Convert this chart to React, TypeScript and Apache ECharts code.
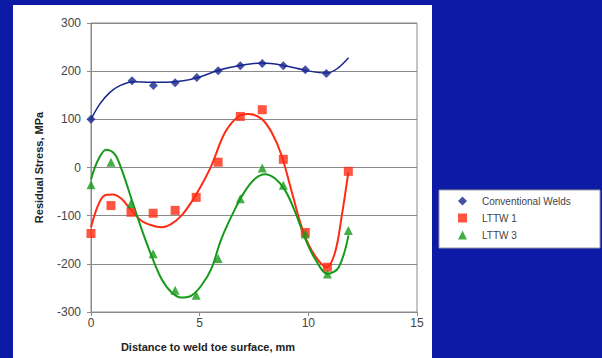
import React, { useEffect, useRef } from "react";
import * as echarts from "echarts";

// Measured points
const convX = [0, 1.89, 2.87, 3.87, 4.87, 5.85, 6.87, 7.88, 8.85, 9.86, 10.83];
const convY = [100, 180, 170, 176, 187, 201, 211, 216, 211, 203, 195];

const lttwX = [0, 0.92, 1.84, 2.86, 3.87, 4.84, 5.85, 6.87, 7.88, 8.85, 9.86, 10.88, 11.84];
const lttw1Y = [-137, -79, -93, -95, -89, -62, 11, 106, 120, 17, -135, -207, -8];
const lttw3Y = [-36, 11, -75, -179, -255, -265, -189, -65, -1, -37, -138, -221, -131];

// Trendlines
const convTrendX = [0, 0.41, 0.87, 1.33, 1.95, 2.72, 3.48, 4.25, 5.0, 5.94, 6.87, 7.86, 8.86, 9.94, 10.86, 11.32, 11.85];
const convTrendY = [100, 132, 156, 170, 178, 177, 177, 180, 188, 203, 212, 217, 212, 201, 196, 205, 228];

const lttw1TrendX = [0, 0.32, 0.63, 1.0, 1.4, 1.86, 2.3, 2.78, 3.24, 3.7, 4.16, 4.62, 5.08, 5.54, 6.17, 6.78, 7.24, 7.85, 8.31, 8.77, 9.24, 9.77, 10.3, 10.85, 11.23, 11.54, 11.84];
const lttw1TrendY = [-124, -79, -58, -56, -65, -89, -110, -120, -124, -117, -100, -72, -37, 4, 73, 106, 111, 101, 73, 25, -51, -134, -183, -207, -176, -100, -10];

const lttw3TrendX = [0, 0.32, 0.7, 1.09, 1.4, 1.86, 2.32, 2.78, 3.24, 3.7, 4.16, 4.62, 5.08, 5.54, 6.0, 6.63, 7.1, 7.56, 8.0, 8.47, 8.94, 9.4, 9.86, 10.3, 10.9, 11.4, 11.85];
const lttw3TrendY = [-25, 15, 37, 28, -3, -65, -127, -183, -231, -259, -270, -266, -245, -210, -148, -86, -48, -23, -14, -23, -48, -93, -148, -189, -221, -207, -141];

const seriesNames = ["Conventional Welds", "LTTW 1", "LTTW 3"];
const seriesSymbols = ["diamond", "rect", "triangle"];
const yTicks = { min: -300, max: 300, interval: 100 };
const xTicks = { min: 0, max: 15, interval: 5 };

const zip = (xs: number[], ys: number[]) => xs.map((x, i) => [x, ys[i]]);

const BLUE = "#18268f";
const RED = "#ff2a12";
const GREEN = "#169a1a";
const FONT = "'Liberation Sans', Arial, sans-serif";

export default function App() {
  const ref = useRef<HTMLDivElement>(null);
  useEffect(() => {
    if (!ref.current) return;
    const chart = echarts.init(ref.current, undefined, { renderer: "svg" });
    const trend = (name: string, xs: number[], ys: number[], color: string, w: number) => ({
      name,
      type: "line",
      data: zip(xs, ys),
      smooth: 0.35,
      showSymbol: false,
      symbol: "none",
      lineStyle: { color, width: w },
      silent: true,
      z: 2,
    });
    chart.setOption({
      animation: false,
      backgroundColor: "#0c1aa6",
      textStyle: { fontFamily: FONT },
      graphic: [
        {
          type: "rect",
          z: -10,
          shape: { x: 13, y: 5, width: 419, height: 360 },
          style: { fill: "#ffffff" },
        },
        {
          type: "rect",
          z: -10,
          shape: { x: 439, y: 190, width: 161, height: 58 },
          style: { fill: "#ffffff", stroke: "#9a9a9a", lineWidth: 1 },
        },
      ],
      grid: {
        left: 91,
        right: 185,
        top: 23,
        bottom: 46,
        show: true,
        borderColor: "#8a8a8a",
        borderWidth: 1,
      },
      legend: {
        data: seriesNames.map((n, i) => ({ name: n, icon: seriesSymbols[i] })),
        orient: "vertical",
        left: 453,
        top: 191,
        itemWidth: 9,
        itemHeight: 9,
        itemGap: 7,
        textStyle: { fontSize: 10, color: "#444", fontFamily: FONT, padding: [0, 0, 0, 10] },
      },
      xAxis: {
        type: "value",
        min: xTicks.min,
        max: xTicks.max,
        interval: xTicks.interval,
        name: "Distance to weld toe surface, mm",
        nameLocation: "middle",
        nameGap: 29,
        nameTextStyle: { fontSize: 11, fontWeight: "bold", color: "#222", padding: [0, 92, 0, 0] },
        axisLine: { show: true, onZero: false, lineStyle: { color: "#8a8a8a" } },
        axisTick: { show: true, length: 4, lineStyle: { color: "#8a8a8a" } },
        axisLabel: { fontSize: 12, color: "#444", margin: 5 },
        splitLine: { show: false },
      },
      yAxis: {
        type: "value",
        min: yTicks.min,
        max: yTicks.max,
        interval: yTicks.interval,
        name: "Residual Stress, MPa",
        nameLocation: "middle",
        nameGap: 47,
        nameTextStyle: { fontSize: 11, fontWeight: "bold", color: "#222" },
        axisLine: { show: true, lineStyle: { color: "#8a8a8a" } },
        axisTick: { show: true, length: 4, lineStyle: { color: "#8a8a8a" } },
        axisLabel: { fontSize: 12, color: "#444", margin: 10 },
        splitLine: { show: true, lineStyle: { color: "#8a8a8a", width: 1 } },
      },
      series: [
        trend("conv-trend", convTrendX, convTrendY, BLUE, 1.5),
        trend("lttw1-trend", lttw1TrendX, lttw1TrendY, RED, 2),
        trend("lttw3-trend", lttw3TrendX, lttw3TrendY, GREEN, 2),
        {
          name: seriesNames[0],
          type: "scatter",
          data: zip(convX, convY),
          symbol: seriesSymbols[0],
          symbolSize: 9,
          itemStyle: { color: BLUE },
          z: 3,
        },
        {
          name: seriesNames[1],
          type: "scatter",
          data: zip(lttwX, lttw1Y),
          symbol: seriesSymbols[1],
          symbolSize: 9,
          itemStyle: { color: RED },
          z: 3,
        },
        {
          name: seriesNames[2],
          type: "scatter",
          data: zip(lttwX, lttw3Y),
          symbol: seriesSymbols[2],
          symbolSize: 9,
          itemStyle: { color: GREEN },
          z: 3,
        },
      ],
    });
    return () => chart.dispose();
  }, []);
  return (
    <div
      ref={ref}
      style={{ position: "absolute", left: 0, top: 0, width: 602, height: 358 }}
    />
  );
}
